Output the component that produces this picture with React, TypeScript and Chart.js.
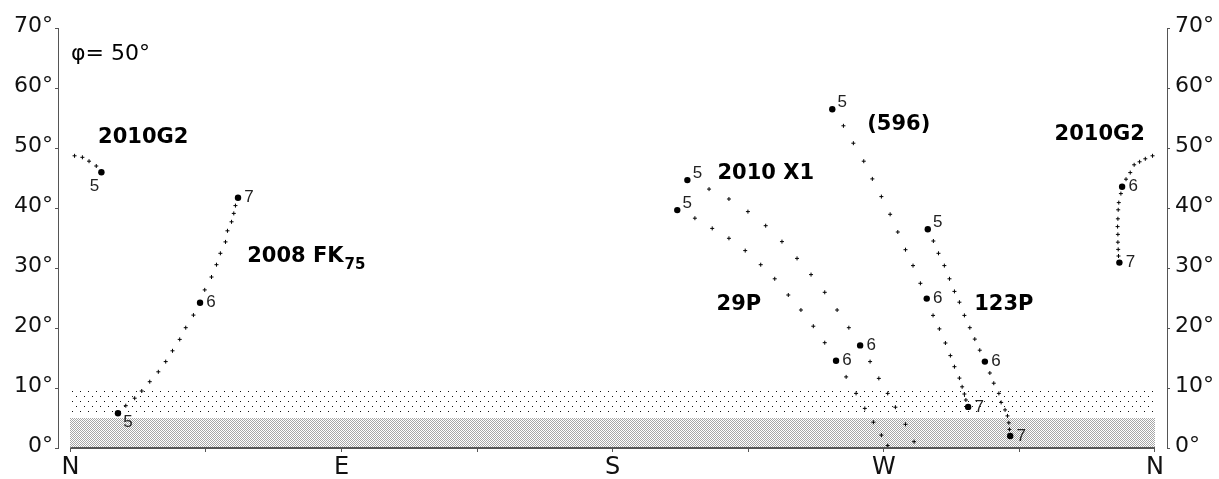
import React, { useEffect, useRef } from 'react';
import { Chart, registerables } from 'chart.js';

Chart.register(...registerables);

// Positions are [azimuth°, altitude°]; azimuth runs N(0) → E(90) → S(180) → W(270) → N(360)
type Pt = [number, number];
type HourPt = { hour: number; az: number; alt: number };

// ---- Hourly track marks (small crosses) ----
const g2TrackEast: Pt[] = [[1.4, 48.7], [4.0, 48.45], [6.2, 47.8], [8.6, 47.0]];
const g2TrackWest: Pt[] = [
  [359.2, 48.7], [356.8, 48.2], [354.9, 47.7], [353.1, 47.2], [351.8, 45.9], [350.4, 44.8],
  [348.7, 42.4], [348.0, 40.9], [347.8, 39.7], [347.7, 38.2], [347.6, 36.9], [347.7, 35.6],
  [347.7, 34.3], [347.8, 33.1], [347.9, 32.0],
];
const fk75Track: Pt[] = [
  [18.4, 7.05], [21.35, 8.3], [23.7, 9.5], [26.35, 11.05], [29.2, 12.7], [31.65, 14.4],
  [33.9, 16.2], [36.3, 18.1], [38.3, 20.05], [40.85, 22.15], [44.6, 26.35], [46.85, 28.5],
  [48.5, 30.55], [49.8, 32.45], [51.5, 34.35], [52.15, 36.2], [53.5, 37.7], [54.25, 39.1],
  [54.8, 40.4],
];
const x1Track: Pt[] = [
  [212.0, 43.15], [218.6, 41.5], [224.9, 39.4], [230.8, 37.05], [236.2, 34.4], [241.2, 31.6],
  [245.85, 28.9], [250.4, 25.95], [254.5, 23.0], [258.4, 20.05], [265.45, 14.4], [268.35, 11.6],
  [271.3, 9.1], [273.85, 6.8], [277.2, 3.95], [280.05, 1.05],
];
const p29Track: Pt[] = [
  [207.3, 38.3], [213.05, 36.6], [218.6, 34.95], [224.0, 32.9], [229.15, 30.55], [233.8, 28.2],
  [238.3, 25.5], [242.5, 23.0], [246.6, 20.3], [250.4, 17.55], [257.5, 11.85], [260.8, 9.1],
  [263.7, 6.6], [266.55, 4.3], [269.2, 2.15], [271.3, 0.4],
];
const a596Track: Pt[] = [
  [256.6, 53.7], [259.9, 50.8], [263.35, 47.8], [266.2, 44.85], [269.2, 41.9], [272.1, 38.95],
  [274.65, 36.0], [277.2, 33.05], [279.7, 30.4], [282.15, 27.45], [286.35, 22.1], [288.45, 19.85],
  [290.45, 17.5], [292.1, 15.4], [293.45, 13.55], [295.1, 11.65], [296.0, 10.2], [296.75, 9.0],
  [297.25, 8.0],
];
const p123Track: Pt[] = [
  [286.45, 34.5], [288.15, 32.45], [290.1, 30.4], [291.8, 28.2], [293.45, 26.1], [295.1, 24.3],
  [296.75, 22.1], [298.55, 20.05], [300.2, 18.15], [301.85, 16.3], [305.2, 12.5], [306.5, 10.8],
  [308.2, 9.1], [308.95, 7.6], [310.25, 6.35], [311.05, 5.35], [311.5, 4.2], [311.7, 3.1],
];

// ---- Positions at full hours (large dots, labelled with the hour) ----
const g2Hours: HourPt[] = [
  { hour: 5, az: 10.3, alt: 45.95 }, { hour: 6, az: 349.1, alt: 43.55 }, { hour: 7, az: 348.2, alt: 30.9 },
];
const fk75Hours: HourPt[] = [
  { hour: 5, az: 15.8, alt: 5.8 }, { hour: 6, az: 43.05, alt: 24.2 }, { hour: 7, az: 55.65, alt: 41.7 },
];
const x1Hours: HourPt[] = [{ hour: 5, az: 204.8, alt: 44.65 }, { hour: 6, az: 262.15, alt: 17.1 }];
const p29Hours: HourPt[] = [{ hour: 5, az: 201.45, alt: 39.65 }, { hour: 6, az: 254.15, alt: 14.55 }];
const a596Hours: HourPt[] = [
  { hour: 5, az: 252.9, alt: 56.45 }, { hour: 6, az: 284.25, alt: 24.9 }, { hour: 7, az: 298.0, alt: 6.85 },
];
const p123Hours: HourPt[] = [
  { hour: 5, az: 284.6, alt: 36.45 }, { hour: 6, az: 303.55, alt: 14.4 }, { hour: 7, az: 311.95, alt: 2.0 },
];

// ---- Axis ticks ----
const AZ_TICKS = [0, 45, 90, 135, 180, 225, 270, 315, 360];
const AZ_LABELS: Record<number, string> = { 0: 'N', 90: 'E', 180: 'S', 270: 'W', 360: 'N' };
const ALT_TICKS = [0, 10, 20, 30, 40, 50, 60, 70];

// Horizon haze bands (altitude °)
const HAZE_DENSE_TOP = 5;
const HAZE_LIGHT_TOP = 9.5;

const LATITUDE_LABEL = 'φ= 50°';

// Object names, anchored at [azimuth, altitude] of the text's left baseline
const NAME_LABELS: { text: string; sub?: string; az: number; alt: number }[] = [
  { text: '2010G2', az: 9.2, alt: 50.8 },
  { text: '2008 FK', sub: '75', az: 58.7, alt: 31.05 },
  { text: '2010 X1', az: 214.8, alt: 44.8 },
  { text: '29P', az: 214.5, alt: 23.0 },
  { text: '(596)', az: 264.5, alt: 53.0 },
  { text: '123P', az: 300.0, alt: 23.0 },
  { text: '2010G2', az: 326.7, alt: 51.35 },
];

const SANS = '"DejaVu Sans", sans-serif';
const AXIS_GRAY = '#555555';

// Where each hour number sits around its dot (pixel offsets of the text centre)
const HOUR_OFFSETS: Record<string, [number, number]> = {
  right: [11, 0],
  upRight: [10, -7],
  downRight: [10, 9],
  belowLeft: [-7, 14],
};

const hourGroups: { pts: HourPt[]; place: (h: number) => string }[] = [
  { pts: g2Hours, place: (h) => (h === 5 ? 'belowLeft' : 'right') },
  { pts: fk75Hours, place: (h) => (h === 5 ? 'downRight' : 'right') },
  { pts: x1Hours, place: (h) => (h === 5 ? 'upRight' : 'right') },
  { pts: p29Hours, place: (h) => (h === 5 ? 'upRight' : 'right') },
  { pts: a596Hours, place: (h) => (h === 5 ? 'upRight' : 'right') },
  { pts: p123Hours, place: (h) => (h === 5 ? 'upRight' : 'right') },
];

const tracks: Pt[][] = [g2TrackEast, g2TrackWest, fk75Track, x1Track, p29Track, a596Track, p123Track];

function dotPattern(ctx: CanvasRenderingContext2D, w: number, h: number, color: string, dots: [number, number][]) {
  const c = document.createElement('canvas');
  c.width = w;
  c.height = h;
  const g = c.getContext('2d')!;
  g.fillStyle = color;
  dots.forEach(([a, b]) => g.fillRect(a, b, 1, 1));
  return ctx.createPattern(c, 'repeat')!;
}

const skyPlugin = {
  id: 'skyDecor',
  beforeDatasetsDraw(chart: any) {
    const { ctx, scales } = chart;
    const x = scales.x;
    const y = scales.y;
    const x0 = Math.round(x.getPixelForValue(0));
    const x1 = Math.round(x.getPixelForValue(360));
    const yb = Math.round(y.getPixelForValue(0));
    const yd = Math.round(y.getPixelForValue(HAZE_DENSE_TOP));
    const yl = Math.round(y.getPixelForValue(HAZE_LIGHT_TOP));
    ctx.save();
    ctx.imageSmoothingEnabled = false;
    // fine checker just above the horizon
    ctx.fillStyle = dotPattern(ctx, 2, 2, '#a6a6a6', [[0, 0], [1, 1]]);
    ctx.fillRect(x0, yd, x1 - x0, yb - yd);
    // sparse dots in the upper haze band
    ctx.fillStyle = dotPattern(ctx, 8, 10, '#111', [[0, 1], [4, 6]]);
    ctx.fillRect(x0, yl, x1 - x0, yd - yl - 2);
    ctx.restore();
  },
  afterDatasetsDraw(chart: any) {
    const { ctx, scales } = chart;
    const x = scales.x;
    const y = scales.y;
    ctx.save();

    // hour numbers next to the large dots
    ctx.font = `17px "Liberation Sans", sans-serif`;
    ctx.fillStyle = '#222';
    ctx.textAlign = 'center';
    ctx.textBaseline = 'middle';
    hourGroups.forEach((g) => {
      g.pts.forEach((p) => {
        const [dx, dy] = HOUR_OFFSETS[g.place(p.hour)];
        ctx.fillText(String(p.hour), x.getPixelForValue(p.az) + dx, y.getPixelForValue(p.alt) + dy);
      });
    });

    // object names
    ctx.fillStyle = '#000';
    ctx.textAlign = 'left';
    ctx.textBaseline = 'alphabetic';
    NAME_LABELS.forEach((l) => {
      const px = x.getPixelForValue(l.az);
      const py = y.getPixelForValue(l.alt);
      ctx.font = `bold 21px ${SANS}`;
      ctx.fillText(l.text, px, py);
      if (l.sub) {
        const w = ctx.measureText(l.text).width;
        ctx.font = `bold 15px ${SANS}`;
        ctx.fillText(l.sub, px + w + 1, py + 7);
      }
    });

    // observer latitude
    ctx.font = `22px ${SANS}`;
    ctx.fillText(LATITUDE_LABEL, x.getPixelForValue(0.2), y.getPixelForValue(64.7));
    ctx.restore();
  },
};

function altAxis(position: 'left' | 'right', width: number, padding: number) {
  return {
    type: 'linear',
    position,
    min: 0,
    max: 70,
    afterBuildTicks: (s: any) => {
      s.ticks = ALT_TICKS.map((v) => ({ value: v }));
    },
    afterFit: (s: any) => {
      s.width = width;
    },
    grid: { drawOnChartArea: false, drawTicks: true, tickLength: 3, color: AXIS_GRAY, lineWidth: 1 },
    border: { display: true, color: AXIS_GRAY, width: 1 },
    ticks: {
      callback: (v: number) => `${v}°`,
      font: { family: SANS, size: 22 },
      color: '#111',
      padding,
      labelOffset: -2,
    },
  };
}

export default function App() {
  const canvasRef = useRef<HTMLCanvasElement | null>(null);

  useEffect(() => {
    const canvas = canvasRef.current;
    if (!canvas) return;

    const datasets: any[] = [
      // horizon line from N to N
      {
        data: [{ x: 0, y: 0 }, { x: 360, y: 0 }],
        showLine: true,
        borderColor: AXIS_GRAY,
        borderWidth: 2,
        pointRadius: 0,
        clip: false,
      },
      ...tracks.map((t) => ({
        data: t.map(([az, alt]) => ({ x: az, y: alt })),
        showLine: false,
        pointStyle: 'cross',
        pointRadius: 2,
        borderWidth: 1,
        borderColor: '#000',
        backgroundColor: '#000',
      })),
      ...hourGroups.map((g) => ({
        data: g.pts.map((p) => ({ x: p.az, y: p.alt })),
        showLine: false,
        pointStyle: 'circle',
        pointRadius: 3.2,
        borderWidth: 0,
        backgroundColor: '#000',
      })),
    ];

    const chart = new Chart(canvas, {
      type: 'scatter',
      data: { datasets },
      plugins: [skyPlugin],
      options: {
        animation: false,
        responsive: false,
        maintainAspectRatio: false,
        devicePixelRatio: 1,
        layout: { padding: { top: 28, left: 0, right: 0, bottom: 0 } },
        plugins: { legend: { display: false }, tooltip: { enabled: false } },
        scales: {
          x: {
            type: 'linear',
            min: -4.1,
            max: 364,
            afterBuildTicks: (s: any) => {
              s.ticks = AZ_TICKS.map((v) => ({ value: v }));
            },
            afterFit: (s: any) => {
              s.height = 31;
            },
            grid: { drawOnChartArea: false, drawTicks: true, tickLength: 4, color: AXIS_GRAY, lineWidth: 1 },
            border: { display: false },
            ticks: {
              callback: (v: number) => AZ_LABELS[v] ?? '',
              font: { family: SANS, size: 24 },
              color: '#111',
              padding: 1,
              maxRotation: 0,
              autoSkip: false,
            },
          },
          y: altAxis('left', 58, 2),
          y2: altAxis('right', 52, 5),
        },
      } as any,
    });

    return () => chart.destroy();
  }, []);

  return (
    <div style={{ position: 'fixed', left: 0, top: 0, width: 1219, height: 479, background: '#fff' }}>
      <canvas ref={canvasRef} width={1219} height={479} style={{ display: 'block' }} />
    </div>
  );
}
